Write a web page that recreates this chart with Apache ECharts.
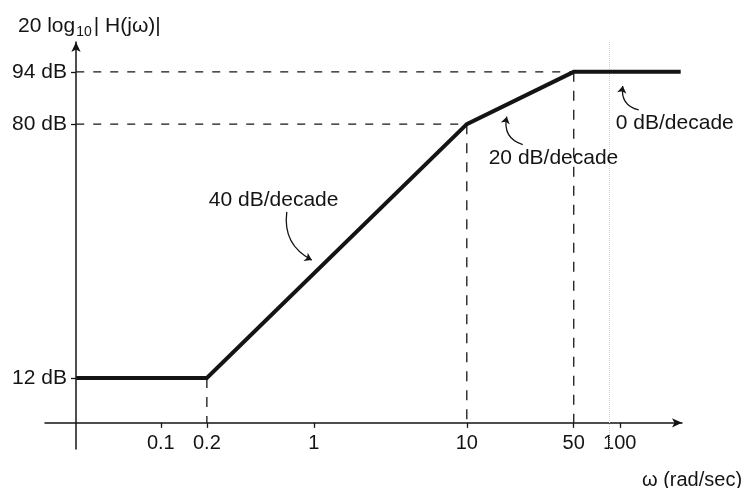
<!DOCTYPE html>
<html><head><meta charset="utf-8">
<script src="https://cdn.jsdelivr.net/npm/echarts@6/dist/echarts.min.js"></script>
<style>html,body{margin:0;padding:0;background:#fff}#chart{width:744px;height:488px}</style>
</head><body><div id="chart"></div>
<script>
// Asymptotic Bode magnitude plot (corner points)
const breakOmega = [0.028, 0.2, 10, 50, 250];
const magnitudeDb = [12, 12, 80, 94, 94];
const xTickValues = [0.1, 0.2, 1, 10, 50, 100];
const xTickLabels = ['0.1', '0.2', '1', '10', '50', '100'];
const yTickValues = [12, 80, 94];
const yTickLabels = ['12 dB', '80 dB', '94 dB'];
const slopeLabels = ['40 dB/decade', '20 dB/decade', '0 dB/decade'];

const FONT = "'Liberation Sans', Arial, Helvetica, sans-serif";
const INK = '#141414';

const curve = breakOmega.map((w, i) => [w, magnitudeDb[i]]);
const hGuides = [2, 3].map(i => [[breakOmega[0], magnitudeDb[i]], [breakOmega[i], magnitudeDb[i]]]);
const vGuides = [1, 2, 3].map(i => [[breakOmega[i], magnitudeDb[i]], [breakOmega[i], 0]]);

function nearestLabel(v, vals, labels) {
  let best = 0;
  vals.forEach((t, i) => { if (Math.abs(Math.log(t) - Math.log(v)) < Math.abs(Math.log(vals[best]) - Math.log(v))) best = i; });
  return labels[best];
}

const guideStyle = { color: INK, width: 1.3, type: [8, 9] };
const series = [];
hGuides.concat(vGuides).forEach((g, k) => {
  series.push({
    type: 'line', data: g, symbol: 'none', silent: true,
    lineStyle: Object.assign({}, guideStyle, k >= 2 ? { type: [10, 9] } : {}),
    z: 1
  });
});
series.push({
  name: 'magnitude', type: 'line', data: curve, symbol: 'none',
  lineStyle: { color: INK, width: 4, join: 'miter' }, z: 5,
  markLine: {
    silent: true, symbol: 'none', label: { show: false },
    lineStyle: { color: '#cfcfcf', type: 'dotted', width: 1 },
    data: [{ xAxis: 85 }]
  }
});
// slope labels
const notePos = [[0.206, 59.5], [13.9, 71.0], [94.2, 80.3]];
series.push({
  type: 'scatter', symbolSize: 0, silent: true, z: 6,
  itemStyle: { color: INK, opacity: 1 },
  data: notePos.map((p, i) => ({ value: p, name: slopeLabels[i] })),
  label: {
    show: true, position: 'right', distance: 0, formatter: p => p.name,
    fontFamily: FONT, fontSize: 21, color: INK, opacity: 1
  }
});
// curved arrows pointing from each slope label to its segment
const arrows = [
  { from: [0.666, 56.5], to: [0.97, 43.6], bend: -0.35 },
  { from: [23.2, 74.5], to: [18.25, 82.0], bend: 0.45 },
  { from: [133, 83.8], to: [104.6, 90.2], bend: 0.45 }
];
series.push({
  type: 'lines', coordinateSystem: 'cartesian2d', silent: true, z: 6,
  symbol: ['none', 'arrow'], symbolSize: 7,
  lineStyle: { color: INK, width: 1.3, opacity: 1 },
  data: arrows.map(a => ({ coords: [a.from, a.to], lineStyle: { curveness: a.bend } }))
});

const chart = echarts.init(document.getElementById('chart'));
chart.setOption({
  backgroundColor: '#ffffff',
  animation: false,
  title: [
    {
      text: '20 log{sub|10}| H(jω)|', left: 13, top: 8,
      textStyle: { fontFamily: FONT, fontSize: 21, fontWeight: 'normal', color: INK,
        rich: { sub: { fontFamily: FONT, fontSize: 14, color: INK, verticalAlign: 'bottom', padding: [12, 2, 0, 1] } } }
    },
    {
      text: 'ω (rad/sec)', left: 637, top: 465,
      textStyle: { fontFamily: FONT, fontSize: 20, fontWeight: 'normal', color: INK }
    }
  ],
  grid: { left: 45, right: 62, top: 42, bottom: 39 },
  xAxis: {
    type: 'log', min: 0.0175, max: 255,
    axisLine: { onZero: true, lineStyle: { color: INK, width: 1.5 }, symbol: ['none', 'arrow'], symbolSize: [7, 10] },
    axisTick: { show: true, length: 5, lineStyle: { color: INK, width: 1.3 }, customValues: xTickValues },
    axisLabel: {
      customValues: xTickValues, margin: -16, fontFamily: FONT, fontSize: 20, color: INK,
      formatter: v => nearestLabel(v, xTickValues, xTickLabels)
    },
    splitLine: { show: false }, minorTick: { show: false }
  },
  yAxis: {
    type: 'value', min: -7, max: 102, offset: -31,
    axisLine: { show: true, onZero: false, lineStyle: { color: INK, width: 1.5 }, symbol: ['none', 'arrow'], symbolSize: [7, 10] },
    axisTick: { show: true, length: 5, lineStyle: { color: INK, width: 1.3 }, customValues: yTickValues },
    axisLabel: {
      customValues: yTickValues, margin: 9, fontFamily: FONT, fontSize: 21, color: INK,
      formatter: v => yTickLabels[yTickValues.indexOf(Math.round(v))]
    },
    splitLine: { show: false }
  },
  series: series
});
</script>
</body></html>
